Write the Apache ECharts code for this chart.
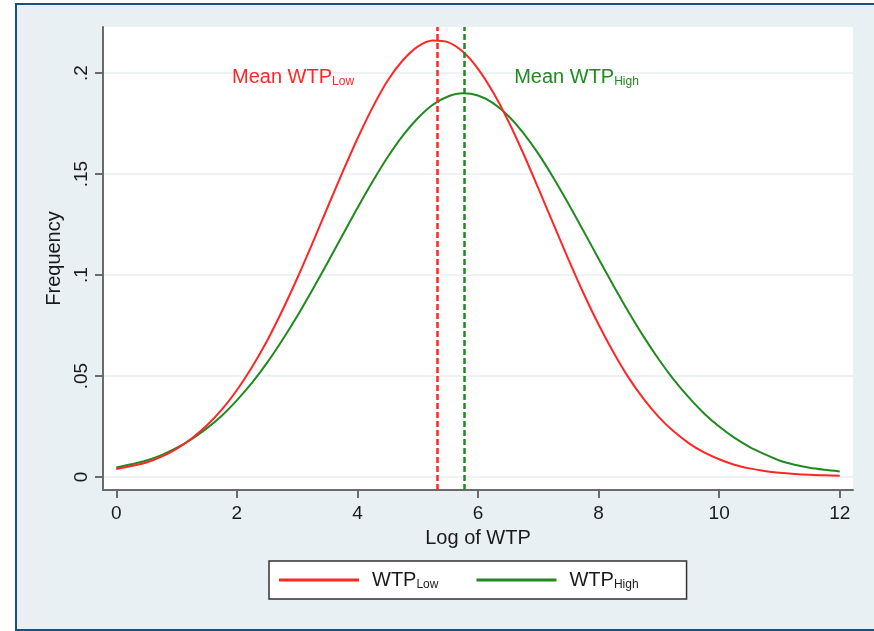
<!DOCTYPE html>
<html>
<head>
<meta charset="utf-8">
<script src="https://cdn.jsdelivr.net/npm/echarts@6/dist/echarts.min.js"></script>
<style>
  html, body { margin: 0; padding: 0; background: #ffffff; overflow: hidden; }
  #frame { position: absolute; left: 15px; top: 3px; width: 900px; height: 624px;
           background: #e9f0f3; border: 2px solid #1d5078; }
  #chart { position: absolute; left: 0; top: 0; width: 874px; height: 631px; }
</style>
</head>
<body>
<div id="frame"></div>
<div id="chart"></div>
<script>
// Log of WTP grid (x) and the two density curves
const xs = [0,0.25,0.5,0.75,1,1.25,1.5,1.75,2,2.25,2.5,2.75,3,3.25,3.5,3.75,4,4.25,4.5,4.75,5,5.25,5.5,5.75,6,
            6.25,6.5,6.75,7,7.25,7.5,7.75,8,8.25,8.5,8.75,9,9.25,9.5,9.75,10,10.25,10.5,10.75,11,11.25,11.5,11.75,12];
const lowVals = [0.0040,0.0055,0.0072,0.0101,0.0140,0.0191,0.0255,0.0334,0.0430,0.0544,0.0674,0.0822,0.0983,0.1154,0.1332,0.1507,0.1675,0.1829,0.1962,0.2062,0.2131,0.2161,0.2153,0.2105,0.2021,
                 0.1905,0.1764,0.1603,0.1430,0.1253,0.1078,0.0910,0.0755,0.0615,0.0491,0.0386,0.0297,0.0225,0.0167,0.0122,0.0088,0.0061,0.0043,0.0030,0.0021,0.0015,0.0011,0.0009,0.0007];
const highVals = [0.0047,0.0063,0.0082,0.0109,0.0144,0.0188,0.0241,0.0304,0.0380,0.0466,0.0565,0.0676,0.0796,0.0925,0.1059,0.1196,0.1332,0.1462,0.1583,0.1689,0.1776,0.1843,0.1884,0.1900,0.1889,
                  0.1851,0.1789,0.1704,0.1601,0.1482,0.1353,0.1218,0.1081,0.0946,0.0816,0.0694,0.0582,0.0481,0.0393,0.0315,0.0250,0.0195,0.0150,0.0114,0.0082,0.0061,0.0046,0.0036,0.0028];
const meanLow = 5.32;
const meanHigh = 5.77;
const xTicks = [0,2,4,6,8,10,12];
const yTicks = [0,0.05,0.1,0.15,0.2];
const seriesNames = ['WTP_Low','WTP_High'];

const RED = '#ff2626';
const GREEN = '#1f8a1f';
const FONT = 'Liberation Sans, Arial, sans-serif';

const lowData = xs.map((x, i) => [x, lowVals[i]]);
const highData = xs.map((x, i) => [x, highVals[i]]);

const chart = echarts.init(document.getElementById('chart'), null, {renderer: 'canvas'});

const subRich = {
  m: { fontSize: 20, fontFamily: FONT, color: '#1a1a1a', lineHeight: 22 },
  s: { fontSize: 12, fontFamily: FONT, color: '#1a1a1a', lineHeight: 12, verticalAlign: 'bottom' }
};

function meanLine(x, color) {
  return {
    silent: true, symbol: ['none', 'none'],
    lineStyle: { color: color, width: 2.5, type: [6, 3], opacity: 1 },
    label: { show: false },
    emphasis: { disabled: true },
    data: [{ xAxis: x, lineStyle: { color: color, width: 2.5, type: [6, 3] } }]
  };
}

function meanLabel(x, y, sub, color) {
  return {
    silent: true, symbol: 'circle', symbolSize: 0,
    label: {
      show: true, position: 'right', distance: 0,
      formatter: '{m|Mean WTP}{s|' + sub + '}',
      rich: {
        m: { fontSize: 20, fontFamily: FONT, color: color, lineHeight: 22 },
        s: { fontSize: 12, fontFamily: FONT, color: color, lineHeight: 12, verticalAlign: 'bottom' }
      }
    },
    data: [{ coord: [x, y] }]
  };
}

chart.setOption({
  backgroundColor: 'transparent',
  animation: false,
  textStyle: { fontFamily: FONT },
  grid: {
    left: 103, right: 21, top: 27, bottom: 141,
    show: true, backgroundColor: '#ffffff', borderWidth: 0
  },
  xAxis: {
    type: 'value',
    min: -0.22, max: 12.22,
    name: 'Log of WTP',
    nameLocation: 'middle',
    nameGap: 38,
    nameTextStyle: { fontSize: 20, color: '#1a1a1a', fontFamily: FONT },
    axisLine: { show: true, onZero: false, lineStyle: { color: '#6a6a6a', width: 2 } },
    axisTick: { show: true, length: 8, customValues: xTicks, lineStyle: { color: '#6a6a6a', width: 2 } },
    axisLabel: { customValues: xTicks, fontSize: 19, color: '#1a1a1a', margin: 14, fontFamily: FONT },
    splitLine: { show: false }
  },
  yAxis: {
    type: 'value',
    min: -0.0064, max: 0.2228,
    name: 'Frequency',
    nameLocation: 'middle',
    nameGap: 36,
    nameTextStyle: { fontSize: 20, color: '#1a1a1a', fontFamily: FONT },
    axisLine: { show: true, onZero: false, lineStyle: { color: '#6a6a6a', width: 2 } },
    axisTick: { show: true, length: 8, customValues: yTicks, lineStyle: { color: '#6a6a6a', width: 2 } },
    axisLabel: {
      customValues: yTicks, rotate: 90, fontSize: 19, color: '#1a1a1a', margin: 12, fontFamily: FONT,
      formatter: v => v === 0 ? '0' : String(+v.toFixed(4)).replace(/^0/, '')
    },
    splitLine: { show: true, lineStyle: { color: '#edf2f5', width: 2 } }
  },
  legend: {
    left: 269, top: 561,
    orient: 'horizontal',
    backgroundColor: '#ffffff',
    borderColor: '#333333', borderWidth: 1.5,
    padding: [9, 48, 8, 10],
    itemGap: 38,
    itemWidth: 80, itemHeight: 3,
    icon: 'rect',
    data: seriesNames,
    formatter: name => {
      const parts = name.split('_');
      return '{m|' + parts[0] + '}{s|' + parts[1] + '}';
    },
    textStyle: { rich: subRich, padding: [0, 0, 0, 8] }
  },
  series: [
    {
      name: seriesNames[0], type: 'line', data: lowData, smooth: 0.3,
      showSymbol: false, symbol: 'none', z: 3,
      lineStyle: { color: RED, width: 2 }, itemStyle: { color: RED },
      markLine: meanLine(meanLow, RED),
      markPoint: meanLabel(1.92, 0.198, 'Low', RED)
    },
    {
      name: seriesNames[1], type: 'line', data: highData, smooth: 0.3,
      showSymbol: false, symbol: 'none', z: 2,
      lineStyle: { color: GREEN, width: 2 }, itemStyle: { color: GREEN },
      markLine: meanLine(meanHigh, GREEN),
      markPoint: meanLabel(6.60, 0.198, 'High', GREEN)
    }
  ]
});
</script>
</body>
</html>
